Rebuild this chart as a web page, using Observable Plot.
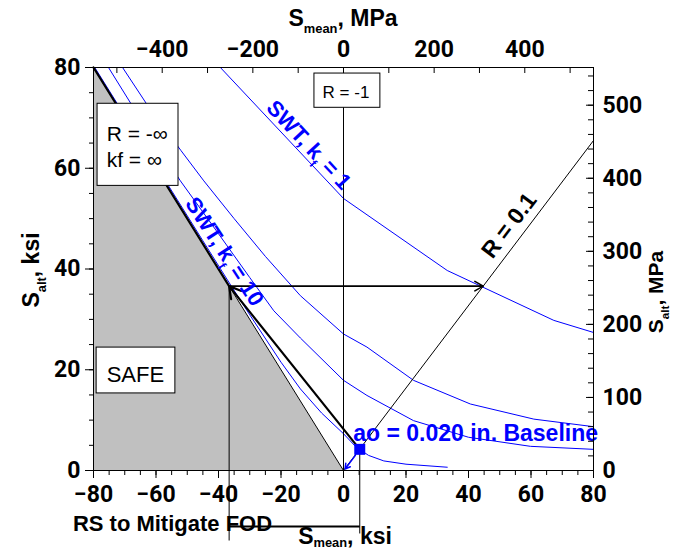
<!DOCTYPE html>
<html><head><meta charset="utf-8">
<script src="https://cdn.jsdelivr.net/npm/d3@7"></script>
<script src="https://cdn.jsdelivr.net/npm/@observablehq/plot@0.6"></script>
<style>body{margin:0;background:#fff;} svg{overflow:visible}</style>
</head><body><div id="chart"></div>
<script>
// ---------- data (ksi) ----------
const MPA_PER_KSI = 6.895;
const xTicksMajor = [-80, -60, -40, -20, 0, 20, 40, 60, 80];
const xTicksMinor = d3.range(-80, 81, 5);
const yTicksMajor = [0, 20, 40, 60, 80];
const yTicksMinor = d3.range(0, 81, 5);
const topTicksMPa = [-500, -400, -300, -200, -100, 0, 100, 200, 300, 400, 500];
const topLabelsMPa = [-400, -200, 0, 200, 400];
const rightTicksMPa = d3.range(0, 541, 20);
const rightLabelsMPa = [0, 100, 200, 300, 400, 500];

// SWT curves
const swtK1X = [-39.4, 0, 33.2, 67.3, 80];
const swtK1Y = [80, 54.0, 39.7, 29.8, 27.4];
const swtBX = [-70.7, -62.3, -52, -44.7, -35, -25, -13.8, 0, 7.5, 22.4, 40.6, 60.9, 80];
const swtBY = [80, 72.1, 63.5, 57.5, 50, 42.5, 34.7, 27.1, 24.5, 17.9, 13.2, 10.2, 8.7];
const swtCX = [-75.2, -67.3, -60, -52.2, -40, -30, -22.3, -13.8, 0, 7.5, 22.4, 40, 59.8, 80];
const swtCY = [80, 72.1, 65, 57.5, 47, 38.3, 31.7, 26.3, 17.9, 14.9, 9.9, 6.6, 4.8, 4.2];
const swtK10X = [-79.6, -60, -45, -36, -30, -20, -13.8, -7, 0, 3.8, 8, 12.9, 20, 33.2];
const swtK10Y = [80, 60.5, 45.6, 36.7, 30.9, 21.5, 16.2, 11.4, 7.3, 4.8, 3.0, 1.9, 1.25, 0.65];

// reference lines
const rInfX = [-80, 0], rInfY = [80, 0];          // R = -inf (safe boundary)
const rPt1X = [0, 80], rPt1Y = [0, 65.5];          // R = 0.1
const rsPointX = -36.6, rsPointY = 36.6;           // residual-stress shifted point
const r01HitX = 44.7;                              // where S_alt = 36.6 meets R = 0.1
const baselineX = 5.2, baselineY = 4.2;            // ao = 0.020 in. baseline point
const bracketY = -11.1, leftDropY = -13.9, rightDropY = -12.5;

const toTable = (xs, ys) => xs.map((x, i) => ({x, y: ys[i]}));
const k1 = toTable(swtK1X, swtK1Y), cB = toTable(swtBX, swtBY), cC = toTable(swtCX, swtCY), k10 = toTable(swtK10X, swtK10Y);
const blue = "#0000ff";
const fmt = d => (d < 0 ? "\u2212" : "") + Math.abs(Math.round(d));
const toKsi = m => m / MPA_PER_KSI;

// annotation boxes (data coords)
const boxes = [
  {x1: -9.3, x2: 11.8, y1: 72.0, y2: 78.8},
  {x1: -78.7, x2: -52.8, y1: 56.5, y2: 72.8},
  {x1: -79.0, x2: -53.8, y1: 15.3, y2: 24.4}
];
const tickFont = "Roboto";
const textFont = "Liberation Sans";
const tickSize = 23;

const chart = Plot.plot({
  width: 684, height: 550,
  marginLeft: 93, marginRight: 91, marginTop: 67, marginBottom: 80,
  x: {domain: [-80, 80]},
  y: {domain: [0, 80]},
  style: {background: "white", overflow: "visible", color: "black"},
  marks: [
    Plot.areaY(toTable(rInfX, rInfY), {x: "x", y: "y", fill: "#c0c0c0"}),
    Plot.line(k1, {x: "x", y: "y", stroke: blue, strokeWidth: 1}),
    Plot.line(cB, {x: "x", y: "y", stroke: blue, strokeWidth: 1}),
    Plot.line(cC, {x: "x", y: "y", stroke: blue, strokeWidth: 1}),
    Plot.line(k10, {x: "x", y: "y", stroke: blue, strokeWidth: 1}),
    Plot.ruleX([0], {y1: 0, y2: 80, stroke: "black", strokeWidth: 1}),
    Plot.line(toTable(rInfX, rInfY), {x: "x", y: "y", stroke: "black", strokeWidth: 1}),
    Plot.line([{x: rInfX[0], y: rInfY[0]}, {x: rsPointX, y: rsPointY}], {x: "x", y: "y", stroke: "black", strokeWidth: 2.2}),
    Plot.line(toTable(rPt1X, rPt1Y), {x: "x", y: "y", stroke: "black", strokeWidth: 1}),
    Plot.arrow([{x1: rsPointX, y1: rsPointY, x2: r01HitX, y2: rsPointY}], {x1: "x1", y1: "y1", x2: "x2", y2: "y2", stroke: "black", strokeWidth: 1.6, headLength: 9}),
    Plot.arrow([{x1: baselineX, y1: baselineY, x2: rsPointX, y2: rsPointY}], {x1: "x1", y1: "y1", x2: "x2", y2: "y2", stroke: "black", strokeWidth: 2.2, headLength: 9}),
    Plot.link([{x1: rsPointX, y1: rsPointY, x2: rsPointX, y2: leftDropY}], {x1: "x1", y1: "y1", x2: "x2", y2: "y2", stroke: "black", strokeWidth: 1}),
    Plot.link([{x1: baselineX, y1: baselineY, x2: baselineX, y2: rightDropY}], {x1: "x1", y1: "y1", x2: "x2", y2: "y2", stroke: "black", strokeWidth: 1}),
    Plot.link([{x1: rsPointX, y1: bracketY, x2: baselineX, y2: bracketY}], {x1: "x1", y1: "y1", x2: "x2", y2: "y2", stroke: "black", strokeWidth: 2}),
    Plot.arrow([{x1: 3.8, y1: 3.0, x2: 0.5, y2: 0.3}], {x1: "x1", y1: "y1", x2: "x2", y2: "y2", stroke: blue, strokeWidth: 1.5, headLength: 6}),
    Plot.dot([{x: baselineX, y: baselineY}], {x: "x", y: "y", symbol: "square", r: 6.2, fill: blue}),
    Plot.rect(boxes, {x1: "x1", x2: "x2", y1: "y1", y2: "y2", fill: "white", stroke: "black", strokeWidth: 1}),
    Plot.text(["R = -1"], {x: 0.8, y: 75.0, fontSize: 17, fontFamily: textFont}),
    Plot.text(["R = -\u221E"], {x: -75.8, y: 66.7, textAnchor: "start", fontSize: 21, fontFamily: textFont}),
    Plot.text(["kf = \u221E"], {x: -75.8, y: 61.6, textAnchor: "start", fontSize: 21, fontFamily: textFont}),
    Plot.text(["SAFE"], {x: -66.6, y: 19.0, fontSize: 22, fontFamily: textFont}),
    Plot.text(["ao = 0.020 in. Baseline"], {x: 3.1, y: 7.4, textAnchor: "start", fontSize: 23, fontWeight: "bold", fill: blue, fontFamily: textFont}),
    Plot.text(["RS to Mitigate FOD"], {x: -86.6, y: -10.6, textAnchor: "start", fontSize: 22, fontWeight: "bold", fontFamily: textFont}),
    Plot.frame({stroke: "black", strokeWidth: 1}),
    // bottom axis
    Plot.axisX({ticks: xTicksMajor, tickSize: 8, tickPadding: 7, tickFormat: fmt, fontSize: tickSize, fontWeight: "bold", fontFamily: tickFont, label: null}),
    Plot.axisX({ticks: xTicksMinor, tickSize: 5, tickFormat: () => "", label: null}),
    // left axis
    Plot.axisY({ticks: yTicksMajor, tickSize: 8, tickPadding: 5, tickFormat: fmt, fontSize: tickSize, fontWeight: "bold", fontFamily: tickFont, label: null}),
    Plot.axisY({ticks: yTicksMinor, tickSize: 4, tickFormat: () => "", label: null}),
    // top axis (MPa)
    Plot.axisX({anchor: "top", ticks: topLabelsMPa.map(toKsi), tickSize: 0, tickPadding: 11, tickFormat: d => fmt(d * MPA_PER_KSI), fontSize: tickSize, fontWeight: "bold", fontFamily: tickFont, label: null}),
    Plot.tickX(topTicksMPa.map(toKsi), {x: d => d, insetBottom: 403 - 6, stroke: "black"}),
    // right axis (MPa)
    Plot.axisY({anchor: "right", ticks: rightLabelsMPa.map(toKsi), tickSize: 0, tickPadding: 9, tickFormat: d => fmt(d * MPA_PER_KSI), fontSize: tickSize, fontWeight: "bold", fontFamily: tickFont, label: null}),
    Plot.tickY(rightTicksMPa.map(toKsi), {y: d => d, insetLeft: 500 - 5, stroke: "black"}),
    Plot.tickY(rightLabelsMPa.map(toKsi), {y: d => d, insetLeft: 500 - 7, stroke: "black"})
  ]
});
document.getElementById("chart").appendChild(chart);

// ---------- rich-text annotations (subscripts) ----------
const sx = chart.scale("x"), sy = chart.scale("y");
const svg = d3.select(chart);
function rich(px, py, rotate, parts, size, fill, subShift = 0.3) {
  const t = svg.append("text")
    .attr("transform", `translate(${px},${py}) rotate(${rotate})`)
    .attr("text-anchor", "middle")
    .attr("font-family", textFont)
    .attr("font-weight", "bold")
    .attr("font-size", size)
    .attr("fill", fill);
  let shifted = 0;
  for (const p of parts) {
    const ts = t.append("tspan").text(p.t);
    if (p.sub) { ts.attr("font-size", size * 0.56).attr("dy", size * subShift); shifted = size * subShift; }
    else if (shifted) { ts.attr("dy", -shifted); shifted = 0; }
  }
  return t;
}
// axis titles
rich(343, 26, 0, [{t: "S"}, {t: "mean", sub: true}, {t: ", MPa"}], 23, "black");
rich(345, 544, 0, [{t: "S"}, {t: "mean", sub: true}, {t: ", ksi"}], 23, "black", 0.14);
rich(39, 270, -90, [{t: "S"}, {t: "alt", sub: true}, {t: ", ksi"}], 23, "black");
rich(663, 292, -90, [{t: "S"}, {t: "alt", sub: true}, {t: ", MPa"}], 21, "black");
// curve labels
rich(sx.apply(-10.8), sy.apply(64.6), 47, [{t: "SWT, k"}, {t: "f", sub: true}, {t: " = 1"}], 22, blue).attr("dy", "0.35em");
rich(sx.apply(-37.8), sy.apply(43.4), 57, [{t: "SWT, k"}, {t: "f", sub: true}, {t: " = 10"}], 22, blue).attr("dy", "0.35em");
rich(sx.apply(53.0), sy.apply(48.6), -52.8, [{t: "R = 0.1"}], 23, "black").attr("dy", "0.35em");
</script>
</body></html>
